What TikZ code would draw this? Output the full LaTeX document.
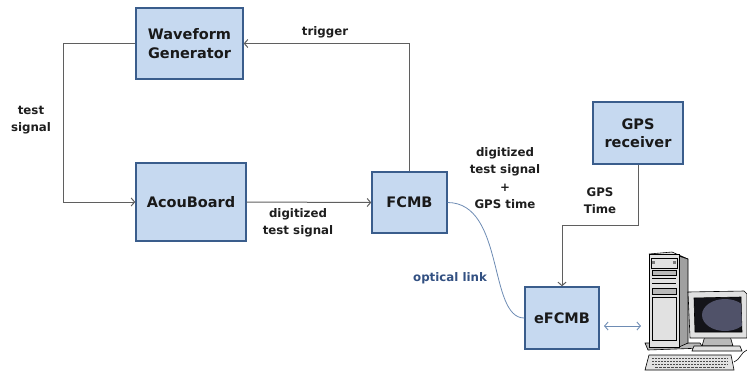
\documentclass[tikz,border=0pt]{standalone}
\usepackage{fontspec}
\setmainfont{DejaVu Sans}
\usetikzlibrary{arrows.meta,calc}

\definecolor{boxfill}{RGB}{198,217,240}
\definecolor{boxline}{RGB}{58,93,140}
\definecolor{wire}{RGB}{95,95,95}
\definecolor{optic}{RGB}{110,140,180}
\definecolor{linktext}{RGB}{50,80,130}
\definecolor{lbl}{RGB}{30,30,30}
\definecolor{pclight}{RGB}{225,225,225}
\definecolor{pcmid}{RGB}{185,185,185}
\definecolor{pcdark}{RGB}{120,120,120}
\definecolor{screen}{RGB}{20,20,25}
\definecolor{glow}{RGB}{80,82,105}

\tikzset{
  block/.style={draw=boxline, line width=1.4pt, fill=boxfill, align=center,
    font=\fontsize{14.5}{18.5}\selectfont\bfseries, text=black!90, inner sep=0pt},
  wirelabel/.style={align=center, text=lbl,
    font=\fontsize{11.8}{17}\selectfont\bfseries},
  conn/.style={draw=wire, line width=1pt,
    -{Straight Barb[length=3.5pt,width=8pt,line width=1pt]}},
  fibre/.style={draw=optic, line width=0.8pt},
  duplex/.style={draw=optic, line width=0.9pt,
    {Straight Barb[length=3.5pt,width=8pt]}-{Straight Barb[length=3.5pt,width=8pt]}},
  pcpart/.style={draw=black, line width=0.6pt}
}

\begin{document}
\begin{tikzpicture}[x=1pt,y=-1pt]
\useasboundingbox (0,0) rectangle (747,376);

% blocks
\node[block, minimum width=107pt, minimum height=71pt] (wg) at (189.5,43.5) {Waveform\\Generator};
\node[block, minimum width=110pt, minimum height=78pt] (ab) at (191,202) {AcouBoard};
\node[block, minimum width=75pt, minimum height=61pt] (fc) at (409.5,202.5) {FCMB};
\node[block, minimum width=90pt, minimum height=62pt] (gps) at (638,133) {GPS\\receiver};
\node[block, minimum width=74pt, minimum height=62pt] (ef) at (562,318) {eFCMB};

% routing corners
\coordinate (tl) at (63,43.5);
\coordinate (gk) at (638,225);
\coordinate (pcl) at (604,326);
\coordinate (pc) at (641,326);

% connectors
\draw[conn] (wg.west) -- (tl) |- (ab.west);
\draw[conn] (ab.east) -- (fc.west);
\draw[conn] (fc.north) |- (wg.east);
\draw[conn] (gps.south) -- (gk) -| (ef.north);
\draw[fibre] (fc.east) .. controls (505,203) and (488,318) .. (ef.west);
\draw[duplex] (pcl) -- (pc);

% labels
\node[wirelabel] (ltrig) at (325,32) {trigger};
\node[wirelabel] (ltest) at (31,120) {test\\signal};
\node[wirelabel] (ldig) at (298,223) {digitized\\test signal};
\node[wirelabel, font=\fontsize{11.8}{17.2}\selectfont\bfseries] (lsum) at (505,178) {digitized\\test signal\\+\\GPS time};
\node[wirelabel] (lgps) at (600,201) {GPS\\Time};
\node[wirelabel, text=linktext] (lopt) at (450,278) {optical link};

% workstation: base plate
\filldraw[pcpart, fill=pcmid] (645,343) -- (700,343) -- (703,348) -- (648,350) -- cycle;
% tower side and top
\filldraw[pcpart, fill=pcdark!70] (679,256) -- (688,259) -- (688,343) -- (679,347) -- cycle;
\filldraw[pcpart, fill=pclight] (649,254) -- (672,252) -- (688,259) -- (679,256) -- cycle;
% tower front
\filldraw[pcpart, fill=pclight] (649,254) rectangle (679,347);
\draw[pcpart] (651,258) rectangle (677,268);
\fill[pcdark] (652,261) rectangle (655,264);
\fill[pcdark] (673,261) rectangle (676,264);
\filldraw[pcpart, fill=pcmid] (652,270) rectangle (676,275);
\draw[pcpart, line width=0.4pt] (652,278) -- (676,278);
\draw[pcpart, line width=0.4pt] (652,283) -- (676,283);
\filldraw[pcpart, fill=pcmid, line width=0.4pt] (652,288) rectangle (676,294);
\draw[pcpart, line width=0.4pt] (652,297) rectangle (676,340);
% monitor stand
\filldraw[pcpart, fill=pcmid] (705,336) -- (730,336) -- (733,346) -- (702,346) -- cycle;
\filldraw[pcpart, fill=pclight] (694,346) -- (740,346) -- (742,351) -- (692,351) -- cycle;
% monitor casing and screen
\filldraw[pcpart, fill=pclight] (688,292) -- (744,291) -- (747,294) -- (747,338) -- (690,338) -- cycle;
\filldraw[pcpart, fill=screen] (694,298) -- (741,297) -- (742,332) -- (695,332) -- cycle;
\begin{scope}
  \clip (694,298) -- (741,297) -- (742,332) -- (695,332) -- cycle;
  \fill[glow] (725,315) ellipse (23pt and 16pt);
\end{scope}
% keyboard and cable
\filldraw[pcpart, fill=pclight] (649,355) -- (731,355) -- (734,370) -- (645,370) -- cycle;
\foreach \r in {358,361,364} {
  \draw[black!70, line width=0.5pt, dash pattern=on 2pt off 1pt] (652,\r) -- (728,\r);
}
\draw[black!70, line width=0.5pt, dash pattern=on 3pt off 1pt] (655,367) -- (725,367);
\draw[pcpart] (734,362) .. controls (740,360) and (741,352) .. (747,350);
\end{tikzpicture}
\end{document}
